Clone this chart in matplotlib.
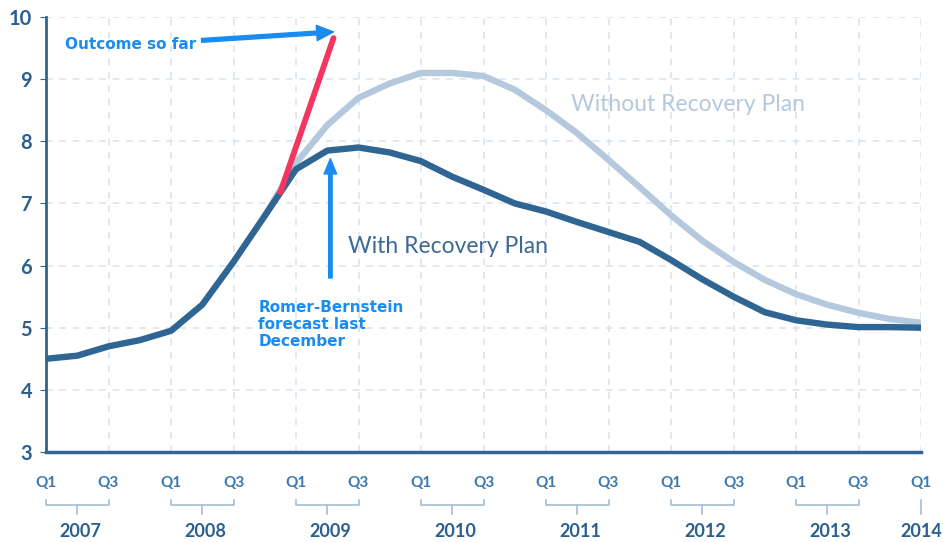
"""
Unemployment rate with and without the recovery plan (Romer-Bernstein, Jan 2009),
with the actual outcome overlaid.
"""

import numpy as np
import matplotlib.pyplot as plt
import matplotlib.transforms as mtransforms

# quarter index: 0 = 2007 Q1 ... 28 = 2014 Q1
quarters = np.arange(29)
with_plan = [4.5, 4.55, 4.7, 4.8, 4.95, 5.37, 6.06, 6.8, 7.55, 7.85, 7.9, 7.82,
             7.68, 7.43, 7.22, 7.0, 6.87, 6.7, 6.54, 6.38, 6.09, 5.78, 5.5, 5.25,
             5.12, 5.05, 5.01, 5.01, 5.0]

without_q = np.arange(7, 29)
without_plan = [6.8, 7.65, 8.26, 8.7, 8.93, 9.1, 9.1, 9.05, 8.83, 8.5, 8.13, 7.7,
                7.26, 6.81, 6.4, 6.06, 5.77, 5.54, 5.37, 5.24, 5.14, 5.08]

outcome_q = [7.5, 9.2]
outcome = [7.18, 9.66]

q_labels = ["Q1", "Q3"] * 7 + ["Q1"]
years = ["2007", "2008", "2009", "2010", "2011", "2012", "2013"]

DARK = "#2f6593"
LIGHT = "#b4c9dd"
RED = "#f2365f"
NOTE = "#1a8cf0"
AXIS = "#2a5f8e"

plt.rcParams["font.family"] = ["Lato", "DejaVu Sans"]

fig = plt.figure(figsize=(9.43, 5.42), dpi=100)
ax = fig.add_axes([46 / 943, 90 / 542, 875 / 943, 435 / 542])

ax.set_xlim(0, 28)
ax.set_ylim(3, 10)

for q in range(0, 29, 2):
    ax.axvline(q, color="#dbe4ee", lw=1.2, ls=(0, (4, 4)), zorder=0)
for v in range(4, 11):
    ax.axhline(v, color="#dbe4ee", lw=1.2, ls=(0, (4, 4)), zorder=0)

ax.plot(without_q, without_plan, color=LIGHT, lw=4.6, solid_capstyle="round", zorder=2)
ax.plot(quarters, with_plan, color=DARK, lw=4.6, solid_capstyle="round", zorder=3)
ax.plot(outcome_q, outcome, color=RED, lw=4.2, solid_capstyle="round", zorder=4)

for s in ["top", "right"]:
    ax.spines[s].set_visible(False)
ax.spines["left"].set_color(DARK)
ax.spines["left"].set_linewidth(2)
ax.spines["bottom"].set_color(DARK)
ax.spines["bottom"].set_linewidth(2.5)

ax.set_yticks(range(3, 11))
ax.tick_params(axis="y", length=4, color=DARK, labelsize=14.5, labelcolor=AXIS, pad=6)
for t in ax.get_yticklabels():
    t.set_fontweight("bold")

ax.set_xticks(range(0, 29, 2))
ax.set_xticklabels(q_labels)
ax.tick_params(axis="x", length=0, labelsize=11, labelcolor="#3a78b0", pad=17)
for t in ax.get_xticklabels():
    t.set_fontweight("bold")

# year brackets under the quarter labels
trans = mtransforms.blended_transform_factory(ax.transData, ax.transAxes)
yb = -0.122
for i, yr in enumerate(years):
    x0, x1 = 4 * i, 4 * i + 2
    xm = (x0 + x1) / 2
    ax.plot([x0, x0, x1, x1], [yb + 0.012, yb, yb, yb + 0.012], color="#a7bdd2",
            lw=1.2, transform=trans, clip_on=False)
    ax.plot([xm, xm], [yb, yb - 0.02], color="#a7bdd2", lw=1.2,
            transform=trans, clip_on=False)
    ax.text(xm + 0.1, -0.183, yr, transform=trans, ha="center", va="center",
            fontsize=13, color=AXIS, fontweight="bold")
ax.plot([28, 28], [yb + 0.012, yb - 0.02], color="#a7bdd2", lw=1.2,
        transform=trans, clip_on=False)
ax.text(28, -0.183, "2014", transform=trans, ha="center", va="center",
        fontsize=13, color=AXIS, fontweight="bold")

ax.text(9.65, 6.3, "With Recovery Plan", fontsize=16.5, color="#3d6a95", va="center")
ax.text(16.8, 8.6, "Without Recovery Plan", fontsize=16.5, color=LIGHT, va="center")

# annotations
ax.annotate("Outcome so far", xy=(9.2, 9.76), xytext=(0.6, 9.55),
            fontsize=11, fontweight="bold", color=NOTE, va="center",
            family=["DejaVu Sans"],
            arrowprops=dict(arrowstyle="simple,head_length=1.1,head_width=1.0,tail_width=0.25",
                            color=NOTE, shrinkA=2, shrinkB=0))
ax.annotate("", xy=(9.1, 7.72), xytext=(9.1, 5.8),
            arrowprops=dict(arrowstyle="simple,head_length=1.1,head_width=0.9,tail_width=0.25",
                            color=NOTE, shrinkA=0, shrinkB=0))
ax.text(6.8, 5.05, "Romer-Bernstein\nforecast last\nDecember", fontsize=11,
        fontweight="bold", color=NOTE, va="center", ha="left",
        linespacing=1.15, family=["DejaVu Sans"])

fig.savefig("out.png", dpi=100)
